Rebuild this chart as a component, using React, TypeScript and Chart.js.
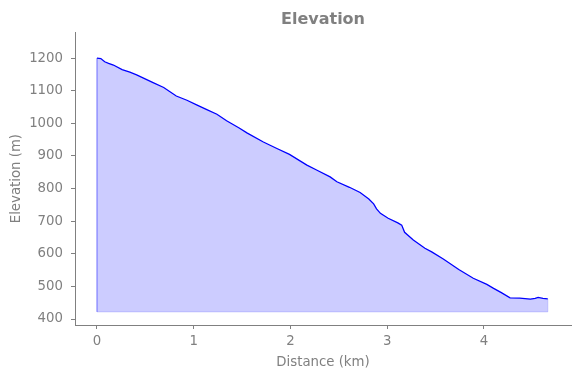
import React, { useEffect, useRef } from "react";
import { Chart, registerables } from "chart.js";

Chart.register(...registerables);

const distanceKm = [0, 0.04, 0.08, 0.12, 0.17, 0.26, 0.34, 0.41, 0.58, 0.69, 0.82, 0.93, 1.03, 1.13, 1.24, 1.34, 1.47, 1.55, 1.72, 1.86, 1.99, 2.17, 2.27, 2.41, 2.48, 2.61, 2.72, 2.81, 2.86, 2.89, 2.93, 3.01, 3.11, 3.15, 3.18, 3.27, 3.39, 3.46, 3.58, 3.74, 3.89, 4.03, 4.10, 4.18, 4.27, 4.37, 4.48, 4.53, 4.56, 4.61, 4.66];
const elevationM = [1200, 1199, 1189, 1184, 1179, 1165, 1157, 1149, 1125, 1110, 1084, 1071, 1057, 1043, 1028, 1008, 986, 971, 943, 923, 905, 872, 857, 836, 821, 804, 788, 768, 753, 738, 724, 709, 695, 688, 666, 642, 617, 606, 584, 552, 525, 506, 494, 481, 465, 464, 461, 463, 466, 463, 462];
const fillBase = 422;
const xTicks = [0, 1, 2, 3, 4];
const yTicks = [400, 500, 600, 700, 800, 900, 1000, 1100, 1200];

const GRAY = "#808080";
const FONT = "'DejaVu Sans', sans-serif";

export default function App() {
  const ref = useRef<HTMLCanvasElement | null>(null);
  useEffect(() => {
    document.body.style.margin = "0";
    const canvas = ref.current;
    if (!canvas) return;
    const pts = distanceKm.map((d, i) => ({ x: d, y: elevationM[i] }));
    const last = distanceKm.length - 1;
    const edge = [
      { x: distanceKm[0], y: elevationM[0] },
      { x: distanceKm[0], y: fillBase },
      { x: distanceKm[last], y: fillBase },
      { x: distanceKm[last], y: elevationM[last] },
    ];
    const chart = new Chart(canvas, {
      type: "scatter",
      data: {
        datasets: [
          {
            data: pts,
            showLine: true,
            borderColor: "#0000ff",
            borderWidth: 1.3,
            pointRadius: 0,
            fill: { value: fillBase },
            backgroundColor: "rgba(0,0,255,0.2)",
            order: 1,
          },
          {
            data: edge,
            showLine: true,
            borderColor: "rgba(0,0,255,0.2)",
            borderWidth: 1,
            pointRadius: 0,
            fill: false,
            order: 2,
          },
        ],
      },
      options: {
        animation: false,
        responsive: false,
        layout: { padding: { left: 0, right: 9, top: 0, bottom: 0 } },
        plugins: {
          legend: { display: false },
          tooltip: { enabled: false },
          title: {
            display: true,
            text: "Elevation",
            color: GRAY,
            fullSize: false,
            font: { family: FONT, size: 16, weight: "bold" },
            padding: { top: 10, bottom: 3 },
          },
        },
        scales: {
          x: {
            type: "linear",
            min: -0.227,
            max: 4.9,
            afterBuildTicks: (s: any) => {
              s.ticks = xTicks.map((v) => ({ value: v }));
            },
            afterFit: (s: any) => {
              s.height = 53;
            },
            grid: { display: true, drawOnChartArea: false, drawTicks: true, tickLength: 4, color: GRAY },
            border: { display: true, color: GRAY, width: 1 },
            ticks: { color: GRAY, font: { family: FONT, size: 13.3 }, padding: 5, maxRotation: 0, callback: (v: any) => String(v) },
            title: {
              display: true,
              text: "Distance (km)",
              color: GRAY,
              font: { family: FONT, size: 13.3 },
              padding: { top: 4, bottom: 7 },
            },
          },
          y: {
            type: "linear",
            min: 381.6,
            max: 1279.7,
            afterBuildTicks: (s: any) => {
              s.ticks = yTicks.map((v) => ({ value: v }));
            },
            afterFit: (s: any) => {
              s.width = 75;
            },
            grid: { display: true, drawOnChartArea: false, drawTicks: true, tickLength: 4, color: GRAY },
            border: { display: true, color: GRAY, width: 1 },
            ticks: { color: GRAY, font: { family: FONT, size: 13.3 }, padding: 8, callback: (v: any) => String(v) },
            title: {
              display: true,
              text: "Elevation (m)",
              color: GRAY,
              font: { family: FONT, size: 13.3 },
              padding: { top: 9, bottom: 4 },
            },
          },
        },
      },
    } as any);
    return () => chart.destroy();
  }, []);
  return (
    <div style={{ width: 580, height: 378 }}>
      <canvas ref={ref} width={580} height={378} />
    </div>
  );
}
